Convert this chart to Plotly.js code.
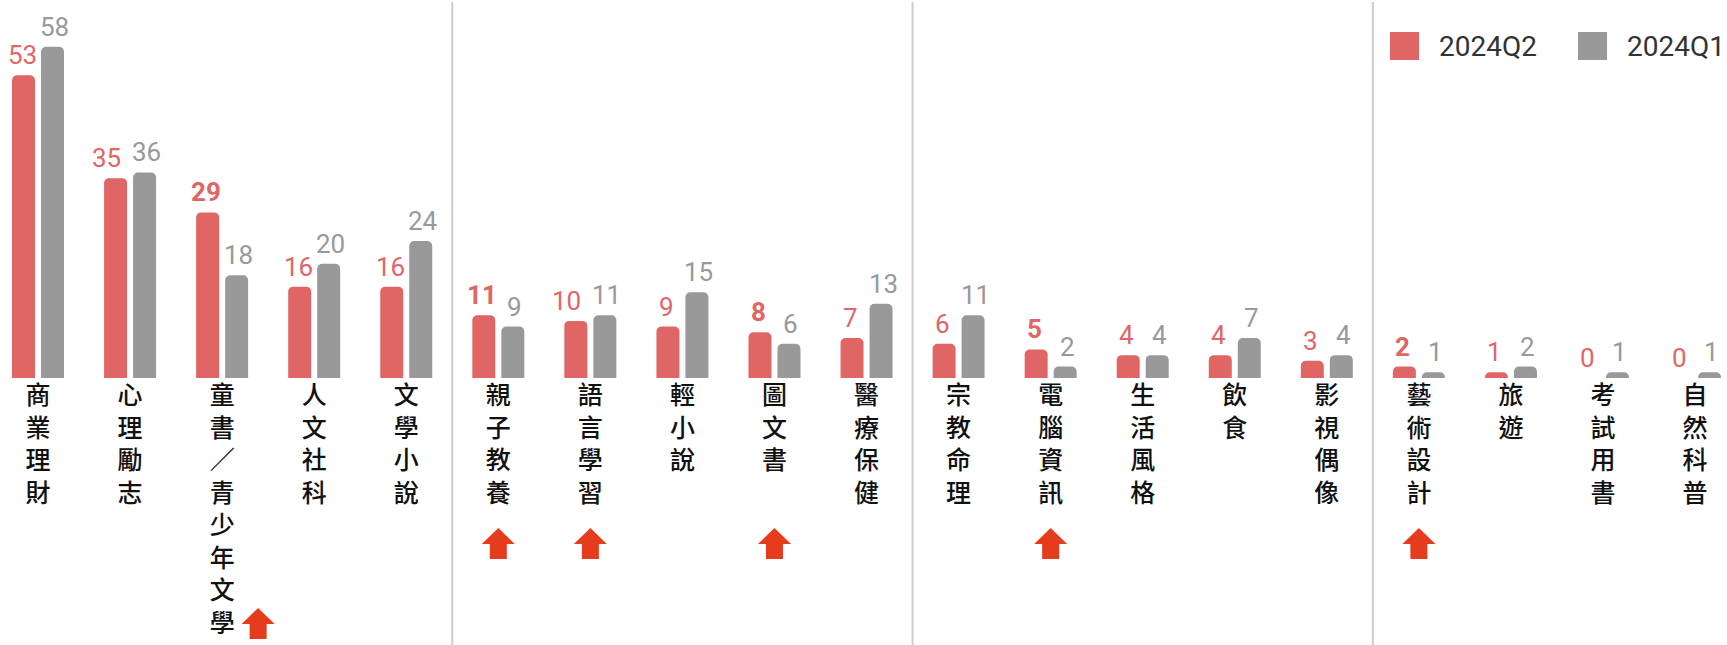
<!DOCTYPE html>
<html>
<head>
<meta charset="utf-8">
<script src="https://cdn.plot.ly/plotly-3.0.1.min.js"></script>
<style>html,body{margin:0;padding:0;background:#fff;}#chart{width:1727px;height:645px;}</style>
</head>
<body>
<div id="chart"></div>
<script>
// ---- data ----
const categories = ["商業理財","心理勵志","童書／青少年文學","人文社科","文學小說","親子教養","語言學習","輕小說","圖文書","醫療保健","宗教命理","電腦資訊","生活風格","飲食","影視偶像","藝術設計","旅遊","考試用書","自然科普"];
const seriesNames = ["2024Q2","2024Q1"];
const q2Values = [53,35,29,16,16,11,10,9,8,7,6,5,4,4,3,2,1,0,0];
const q1Values = [58,36,18,20,24,9,11,15,6,13,11,2,4,7,4,1,2,1,1];
const boldFlags = [0,0,1,0,0,1,0,0,1,0,0,1,0,0,0,1,0,0,0];
const arrowFlags = [0,0,1,0,0,1,1,0,1,0,0,1,0,0,0,1,0,0,0];
const groupBreaks = [4.5, 9.5, 14.5];

// ---- styles ----
const RED = "#e06666", GRAY = "#999999", ARROW = "#e63c1e";
const W = 1727, H = 645, PLOT_H = 378, PX_PER_UNIT = 5.71;
const px = x => x / W;
const py = y => (PLOT_H - y) / PLOT_H;

const tickText = categories.map(c => Array.from(c).join("<br>"));

const traces = [
  {type:"bar", name:seriesNames[0], x:categories, y:q2Values, marker:{color:RED, cornerradius:5}, showlegend:false, hoverinfo:"x+y"},
  {type:"bar", name:seriesNames[1], x:categories, y:q1Values, marker:{color:GRAY, cornerradius:5}, showlegend:false, hoverinfo:"x+y"}
];

const annotations = [];
const numFont = "Roboto, 'Noto Sans', sans-serif";
categories.forEach((c,i) => {
  // avoid overlapping value labels when both are two digits and at similar heights
  const close = Math.abs(q2Values[i]-q1Values[i]) * PX_PER_UNIT < 20;
  const wide = String(q2Values[i]).length + String(q1Values[i]).length >= 4;
  const redShift = (close && wide) ? -24 : -16;
  annotations.push({x:c, y:q2Values[i], xref:"x", yref:"y", xshift:redShift, yshift:3, yanchor:"bottom", showarrow:false,
    text: boldFlags[i] ? "<b>"+q2Values[i]+"</b>" : String(q2Values[i]),
    font:{family:numFont, size:26, color:RED}});
  annotations.push({x:c, y:q1Values[i], xref:"x", yref:"y", xshift:16.5, yshift:3, yanchor:"bottom", showarrow:false,
    text:String(q1Values[i]), font:{family:numFont, size:26, color:GRAY}});
});

// legend (manual, large squares)
const legendItems = [{name:seriesNames[0], color:RED, x:1390}, {name:seriesNames[1], color:GRAY, x:1578}];
const shapes = [];
legendItems.forEach(it => {
  shapes.push({type:"rect", xref:"paper", yref:"paper", x0:px(it.x), x1:px(it.x+29), y0:py(60), y1:py(32), fillcolor:it.color, line:{width:0}, layer:"above"});
  annotations.push({xref:"paper", yref:"paper", x:px(it.x+47), y:py(46), xanchor:"left", yanchor:"middle", showarrow:false,
    text:it.name, font:{family:numFont, size:28, color:"#333333"}});
});

// separators
groupBreaks.forEach(b => {
  shapes.push({type:"line", xref:"x", yref:"paper", x0:b, x1:b, y0:py(H), y1:py(2), line:{color:"#cccccc", width:2}});
});

// arrows (anchored at category, pixel offsets below the baseline)
arrowFlags.forEach((f,i) => {
  if(!f) return;
  const long = Array.from(categories[i]).length > 4;
  const dx = long ? 36 : 0;
  const tip = long ? -230 : -150;
  const pts = [[0,0],[16.5,-16],[8.5,-16],[8.5,-31],[-8.5,-31],[-8.5,-16],[-16.5,-16]];
  const path = "M" + pts.map(p => (p[0]+dx)+","+(p[1]+tip)).join("L") + "Z";
  shapes.push({type:"path", xref:"x", yref:"paper", xsizemode:"pixel", ysizemode:"pixel", xanchor:i, yanchor:0,
    path:path, fillcolor:ARROW, line:{width:0}});
});

const layout = {
  width:W, height:H,
  margin:{l:0, r:0, t:0, b:H-PLOT_H, pad:0},
  paper_bgcolor:"#ffffff", plot_bgcolor:"#ffffff",
  barmode:"group", bargap:0.37, bargroupgap:0.207,
  showlegend:false,
  xaxis:{type:"category", range:[-0.413, 18.347], tickmode:"array", tickvals:categories, ticktext:tickText,
    tickangle:0, ticks:"", showgrid:false, zeroline:false, showline:false, fixedrange:true,
    tickfont:{family:"'Noto Sans CJK TC', 'Noto Sans CJK SC', sans-serif", size:25, weight:500, color:"#111111"}},
  yaxis:{range:[0, PLOT_H/PX_PER_UNIT], showgrid:false, zeroline:false, showline:false, showticklabels:false, ticks:"", fixedrange:true},
  annotations:annotations, shapes:shapes
};

Plotly.newPlot("chart", traces, layout, {displayModeBar:false, staticPlot:true});
</script>
</body>
</html>
